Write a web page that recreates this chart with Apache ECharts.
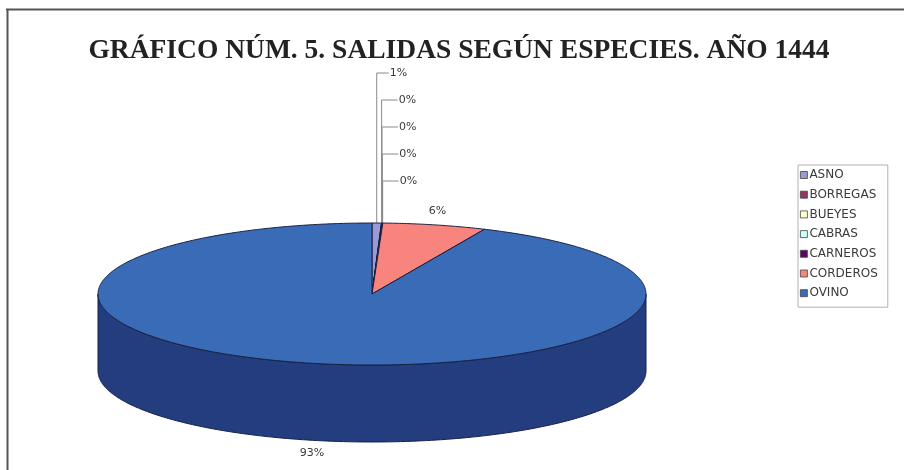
<!DOCTYPE html>
<html>
<head>
<meta charset="utf-8">
<script src="https://cdn.jsdelivr.net/npm/echarts@6/dist/echarts.min.js"></script>
<style>
  html, body { margin: 0; padding: 0; background: #fff; }
  #chart { width: 904px; height: 470px; }
</style>
</head>
<body>
<div id="chart"></div>
<script>
// Salidas según especies, año 1444 (porcentajes)
const categories = ['ASNO', 'BORREGAS', 'BUEYES', 'CABRAS', 'CARNEROS', 'CORDEROS', 'OVINO'];
const shares = [0.55, 0.02, 0.02, 0.02, 0.02, 6.1, 93.27];
const topColors = ['#9a9ad8', '#993366', '#ffffcc', '#ccffff', '#660066', '#f7857e', '#3a6bb6'];
const sideColors = ['#6b6b9a', '#6b2447', '#b3b38f', '#8fb3b3', '#470047', '#ad5c57', '#233d7e'];

const total = shares.reduce((a, b) => a + b, 0);
const starts = [];
let acc = 0;
shares.forEach(v => { starts.push(acc); acc += v; });
const pctText = shares.map(v => Math.round(v / total * 100) + '%');

// 3D pie geometry (tilted ellipse + wall depth)
const geo = { cx: 372, cy: 294, rx: 274, ry: 71, depth: 77 };
const DEG = Math.PI / 180;
function pt(theta, dy) {
  // theta in degrees, clockwise from 12 o'clock
  return [geo.cx + geo.rx * Math.sin(theta * DEG), geo.cy - geo.ry * Math.cos(theta * DEG) + (dy || 0)];
}
function arc(a, b, dy) {
  const pts = [];
  const n = Math.max(2, Math.ceil((b - a) / 0.5));
  for (let k = 0; k <= n; k++) pts.push(pt(a + (b - a) * k / n, dy));
  return pts;
}

const labelFont = { fontFamily: 'DejaVu Sans, Verdana, sans-serif', fontSize: 11, fill: '#3a3a3a' };

function renderSlice(params, api) {
  const i = params.seriesIndex;
  const a = starts[i] / total * 360;
  const b = (starts[i] + shares[i]) / total * 360;
  const mid = (a + b) / 2;
  const children = [];

  // front wall (visible between 90° and 270°)
  const s = Math.max(a, 90), e = Math.min(b, 270);
  if (e > s) {
    const upper = arc(s, e, 0);
    const lower = arc(s, e, geo.depth).reverse();
    children.push({
      type: 'polygon', z2: 1,
      shape: { points: upper.concat(lower) },
      style: { fill: sideColors[i], stroke: '#14204a', lineWidth: 1 }
    });
  }

  // top face
  children.push({
    type: 'polygon', z2: 10,
    shape: { points: [[geo.cx, geo.cy]].concat(arc(a, b, 0)) },
    style: { fill: topColors[i], stroke: '#1a2040', lineWidth: 1, lineJoin: 'round' }
  });

  // data labels
  if (i < 5) {
    // thin slices at the top: stacked labels with leader lines
    const anchor = pt(mid, 0);
    const ly = 73 + 27 * i;
    const tickEnd = anchor[0] + (i === 0 ? 12 : 16);
    children.push({
      type: 'polyline', z2: 5,
      shape: { points: [anchor, [anchor[0], ly], [tickEnd, ly]] },
      style: { stroke: '#8a8a8a', lineWidth: 1, fill: null }
    });
    children.push({
      type: 'text', z2: 20,
      style: Object.assign({ text: pctText[i], x: tickEnd + 1, y: ly, verticalAlign: 'middle', align: 'left' }, labelFont)
    });
  } else {
    const sn = Math.sin(mid * DEG), cs = Math.cos(mid * DEG);
    const x = geo.cx + (geo.rx + 12) * sn;
    const y = cs >= 0 ? geo.cy - (geo.ry + 14) * cs : geo.cy + geo.depth + (geo.ry + 13) * (-cs);
    children.push({
      type: 'text', z2: 20,
      style: Object.assign({ text: pctText[i], x: x, y: y, verticalAlign: 'middle', align: 'center' }, labelFont)
    });
  }
  return { type: 'group', children: children };
}

const chart = echarts.init(document.getElementById('chart'));
chart.setOption({
  backgroundColor: '#ffffff',
  animation: false,
  title: {
    text: 'GRÁFICO NÚM. 5. SALIDAS SEGÚN ESPECIES. AÑO 1444',
    left: 454, top: 32, textAlign: 'center',
    textStyle: { fontFamily: 'Liberation Serif, Times New Roman, serif', fontWeight: 'bold', fontSize: 27.5, color: '#222' }
  },
  graphic: [
    { type: 'polyline', shape: { points: [[6, 9.5], [904, 9.5]] }, style: { stroke: '#555', lineWidth: 2 } },
    { type: 'polyline', shape: { points: [[7.5, 9], [7.5, 470]] }, style: { stroke: '#555', lineWidth: 2 } }
  ],
  legend: {
    orient: 'vertical', left: 798, top: 165,
    data: categories,
    icon: 'rect', itemWidth: 7, itemHeight: 7, itemGap: 7.7,
    padding: [4, 10, 8, 2],
    borderColor: '#b0b0b0', borderWidth: 1,
    itemStyle: { borderColor: '#444', borderWidth: 0.8 },
    textStyle: { fontFamily: 'DejaVu Sans, Verdana, sans-serif', fontSize: 12, color: '#3a3a3a', padding: [0, 0, 0, -3] }
  },
  series: categories.map((name, i) => ({
    type: 'custom',
    name: name,
    coordinateSystem: 'none',
    itemStyle: { color: topColors[i] },
    data: [[shares[i]]],
    renderItem: renderSlice,
    silent: true
  }))
});
</script>
</body>
</html>
